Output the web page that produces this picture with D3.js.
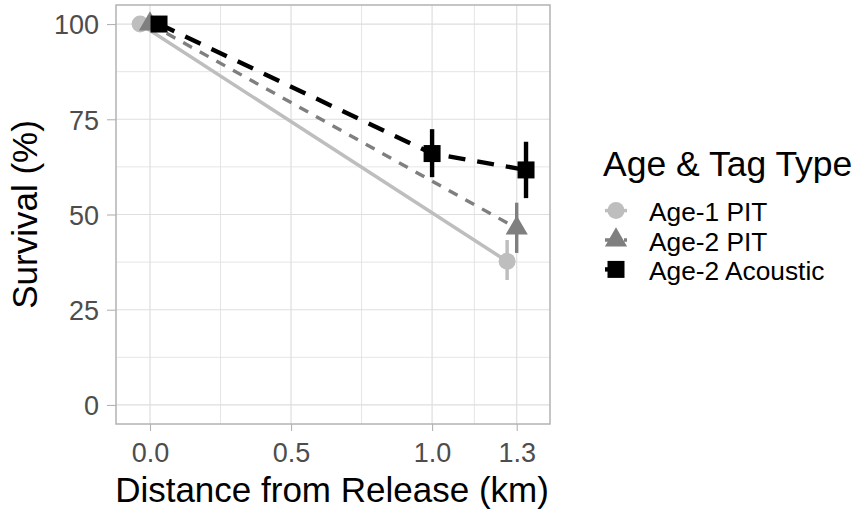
<!DOCTYPE html>
<html>
<head>
<meta charset="utf-8">
<script src="https://cdn.jsdelivr.net/npm/d3@7"></script>
<style>
  body { margin: 0; background: #fff; }
  svg { display: block; }
  text { font-family: "Liberation Sans", Arial, sans-serif; }
</style>
</head>
<body>
<svg id="chart" width="857" height="512"></svg>
<script>
// ---- data ----
const groups = ["Age-1 PIT", "Age-2 PIT", "Age-2 Acoustic"];
// distance (km, dodged), survival (%), lower and upper bounds
const age1PitDist = [-0.035, 1.266];
const age1PitSurv = [100, 37.7];
const age1PitLo   = [100, 32.8];
const age1PitHi   = [100, 43.3];

const age2PitDist = [0, 1.3];
const age2PitSurv = [100, 46.4];
const age2PitLo   = [100, 39.9];
const age2PitHi   = [100, 53.1];

const age2AcDist = [0.032, 1.0, 1.333];
const age2AcSurv = [100, 66.0, 61.7];
const age2AcLo   = [100, 59.8, 54.3];
const age2AcHi   = [100, 72.4, 69.1];

const xTickValues = [0, 0.5, 1.0, 1.3];
const xTickLabels = ["0.0", "0.5", "1.0", "1.3"];
const xMinorValues = [0.25, 0.75, 1.15];
const yTickValues = [0, 25, 50, 75, 100];
const yMinorValues = [12.5, 37.5, 62.5, 87.5];

// ---- styles ----
const styles = {
  "Age-1 PIT":      { color: "#BEBEBE", dash: null,    width: 3.5, shape: "circle" },
  "Age-2 PIT":      { color: "#7F7F7F", dash: "10,9",  width: 3.4, shape: "triangle" },
  "Age-2 Acoustic": { color: "#000000", dash: "17,12", width: 4.4, shape: "square" }
};

const series = [
  { name: groups[0], dist: age1PitDist, surv: age1PitSurv, lo: age1PitLo, hi: age1PitHi },
  { name: groups[1], dist: age2PitDist, surv: age2PitSurv, lo: age2PitLo, hi: age2PitHi },
  { name: groups[2], dist: age2AcDist,  surv: age2AcSurv,  lo: age2AcLo,  hi: age2AcHi }
];

const svg = d3.select("#chart");
const panel = { left: 116, right: 550, top: 5, bottom: 424 };

const x = d3.scaleLinear().domain([-0.1205, 1.418]).range([panel.left, panel.right]);
const y = d3.scaleLinear().domain([-5, 105]).range([panel.bottom, panel.top]);

const gridColor = "#DEDEDE";
const g = svg.append("g");

// minor grid
g.selectAll(".xminor").data(xMinorValues).enter().append("line")
  .attr("x1", d => x(d)).attr("x2", d => x(d))
  .attr("y1", panel.top).attr("y2", panel.bottom)
  .attr("stroke", gridColor).attr("stroke-width", 0.8);
g.selectAll(".yminor").data(yMinorValues).enter().append("line")
  .attr("y1", d => y(d)).attr("y2", d => y(d))
  .attr("x1", panel.left).attr("x2", panel.right)
  .attr("stroke", gridColor).attr("stroke-width", 0.8);
// major grid
g.selectAll(".xmajor").data(xTickValues).enter().append("line")
  .attr("x1", d => x(d)).attr("x2", d => x(d))
  .attr("y1", panel.top).attr("y2", panel.bottom)
  .attr("stroke", gridColor).attr("stroke-width", 1.2);
g.selectAll(".ymajor").data(yTickValues).enter().append("line")
  .attr("y1", d => y(d)).attr("y2", d => y(d))
  .attr("x1", panel.left).attr("x2", panel.right)
  .attr("stroke", gridColor).attr("stroke-width", 1.2);

// axes
const xAxis = d3.axisBottom(x).tickValues(xTickValues)
  .tickFormat((d, i) => xTickLabels[i]).tickSize(7).tickPadding(12);
const yAxis = d3.axisLeft(y).tickValues(yTickValues).tickSize(9).tickPadding(8);

const gx = svg.append("g").attr("transform", `translate(0,${panel.bottom})`).call(xAxis);
const gy = svg.append("g").attr("transform", `translate(${panel.left},0)`).call(yAxis);
[gx, gy].forEach(a => {
  a.select(".domain").remove();
  a.selectAll(".tick line").attr("stroke", "#B3B3B3").attr("stroke-width", 1.1);
  a.selectAll(".tick text").attr("fill", "#4D4D4D").style("font-size", "27px");
});
gx.selectAll(".tick text").attr("dy", null).attr("dominant-baseline", "auto").attr("y", 37.7);
gy.selectAll(".tick text").attr("dy", "0.36em");

// series
function symbolPath(shape) {
  if (shape === "circle") return d3.symbol(d3.symbolCircle, Math.PI * 8.5 * 8.5)();
  if (shape === "square") return d3.symbol(d3.symbolSquare, 17 * 17)();
  return d3.symbol(d3.symbolTriangle, 3 * Math.sqrt(3) * 6.4 * 6.4)();
}

const plot = svg.append("g");
series.forEach(s => {
  const st = styles[s.name];
  const pts = s.dist.map((d, i) => ({ d, v: s.surv[i], lo: s.lo[i], hi: s.hi[i] }));
  const line = d3.line().x(p => x(p.d)).y(p => y(p.v));
  plot.append("path").datum(pts).attr("d", line)
    .attr("fill", "none").attr("stroke", st.color).attr("stroke-width", st.width)
    .attr("stroke-dasharray", st.dash);
  plot.selectAll(null).data(pts).enter().append("line")
    .attr("x1", p => x(p.d)).attr("x2", p => x(p.d))
    .attr("y1", p => y(p.lo)).attr("y2", p => y(p.hi))
    .attr("stroke", st.color).attr("stroke-width", st.width);
  plot.selectAll(null).data(pts).enter().append("path")
    .attr("d", symbolPath(st.shape))
    .attr("transform", p => `translate(${x(p.d)},${y(p.v)})`)
    .attr("fill", st.color);
});

// panel border
svg.append("rect")
  .attr("x", panel.left).attr("y", panel.top)
  .attr("width", panel.right - panel.left).attr("height", panel.bottom - panel.top)
  .attr("fill", "none").attr("stroke", "#B3B3B3").attr("stroke-width", 1.5);

// axis titles
svg.append("text").attr("x", (panel.left + panel.right) / 2 - 1).attr("y", 501.5)
  .attr("text-anchor", "middle").style("font-size", "35px").attr("fill", "#000")
  .text("Distance from Release (km)");
svg.append("text")
  .attr("transform", `translate(37,${(panel.top + panel.bottom) / 2}) rotate(-90)`)
  .attr("text-anchor", "middle").style("font-size", "35px").attr("fill", "#000")
  .text("Survival (%)");

// legend
const legend = svg.append("g");
legend.append("text").attr("x", 603).attr("y", 176)
  .style("font-size", "35.5px").attr("fill", "#000").text("Age & Tag Type");
groups.forEach((name, i) => {
  const st = styles[name];
  const cy = 210.6 + i * 29.4;
  legend.append("line").attr("x1", 605).attr("x2", 627).attr("y1", cy).attr("y2", cy)
    .attr("stroke", st.color).attr("stroke-width", st.width)
    .attr("stroke-dasharray", st.dash);
  legend.append("path").attr("d", symbolPath(st.shape))
    .attr("transform", `translate(616,${cy})`).attr("fill", st.color);
  legend.append("text").attr("x", 649).attr("y", cy + 10.8)
    .style("font-size", "26.3px").attr("fill", "#000").text(name);
});
</script>
</body>
</html>
